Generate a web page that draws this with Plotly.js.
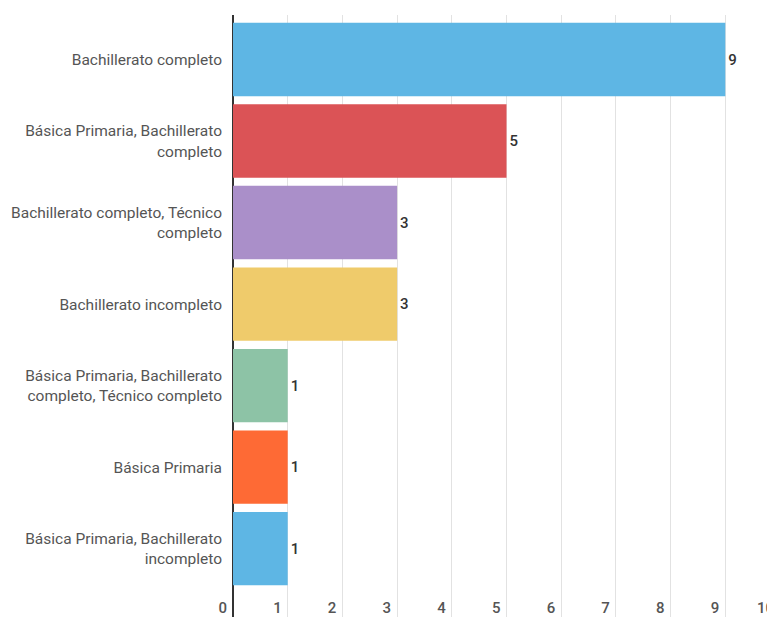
<!DOCTYPE html>
<html>
<head>
<meta charset="utf-8">
<script src="https://cdn.plot.ly/plotly-3.0.1.min.js"></script>
<style>
html, body { margin: 0; padding: 0; overflow: hidden; background: #fff; }
#chart { width: 785px; height: 622px; }
</style>
</head>
<body>
<div id="chart"></div>
<script>
const categories = [
  "Bachillerato completo",
  "Básica Primaria, Bachillerato<br>completo",
  "Bachillerato completo, Técnico<br>completo",
  "Bachillerato incompleto",
  "Básica Primaria, Bachillerato<br>completo, Técnico completo",
  "Básica Primaria",
  "Básica Primaria, Bachillerato<br>incompleto"
];
const counts = [9, 5, 3, 3, 1, 1, 1];
const barColors = ["#5eb6e4", "#db5356", "#aa8fc9", "#efcb6b", "#8dc3a6", "#fe6a35", "#5eb6e4"];
const xTicks = [0, 1, 2, 3, 4, 5, 6, 7, 8, 9, 10];

const trace = {
  type: "bar",
  orientation: "h",
  y: categories,
  x: counts,
  marker: { color: barColors },
  text: counts.map(String),
  textposition: "outside",
  cliponaxis: false,
  textfont: { family: "Roboto, sans-serif", size: 15, color: "#333", weight: 500 },
  hoverinfo: "none"
};

const layout = {
  width: 785,
  height: 622,
  margin: { l: 233, r: 5, t: 15, b: 0 },
  paper_bgcolor: "#fff",
  plot_bgcolor: "#fff",
  showlegend: false,
  bargap: 0.1,
  font: { family: "Roboto, sans-serif", size: 15.5, color: "#555" },
  xaxis: {
    range: [0, 10],
    tickvals: xTicks,
    ticktext: xTicks.map(String),
    ticklabelposition: "inside left",
    ticklabeloverflow: "allow",
    ticklabelshift: -6,
    showgrid: true,
    gridcolor: "#e2e2e2",
    gridwidth: 1,
    zeroline: true,
    zerolinecolor: "#333",
    zerolinewidth: 2,
    showline: false,
    ticks: "",
    fixedrange: true,
    tickfont: { family: "Roboto, sans-serif", size: 15, color: "#555", weight: 500 }
  },
  yaxis: {
    type: "category",
    range: [6.90, -0.546],
    showgrid: false,
    zeroline: false,
    showline: false,
    ticks: "",
    ticklabelstandoff: 10,
    fixedrange: true,
    tickfont: { family: "Roboto, sans-serif", size: 15.5, color: "#555" }
  }
};

Plotly.newPlot("chart", [trace], layout, { displayModeBar: false, staticPlot: true });
</script>
</body>
</html>
